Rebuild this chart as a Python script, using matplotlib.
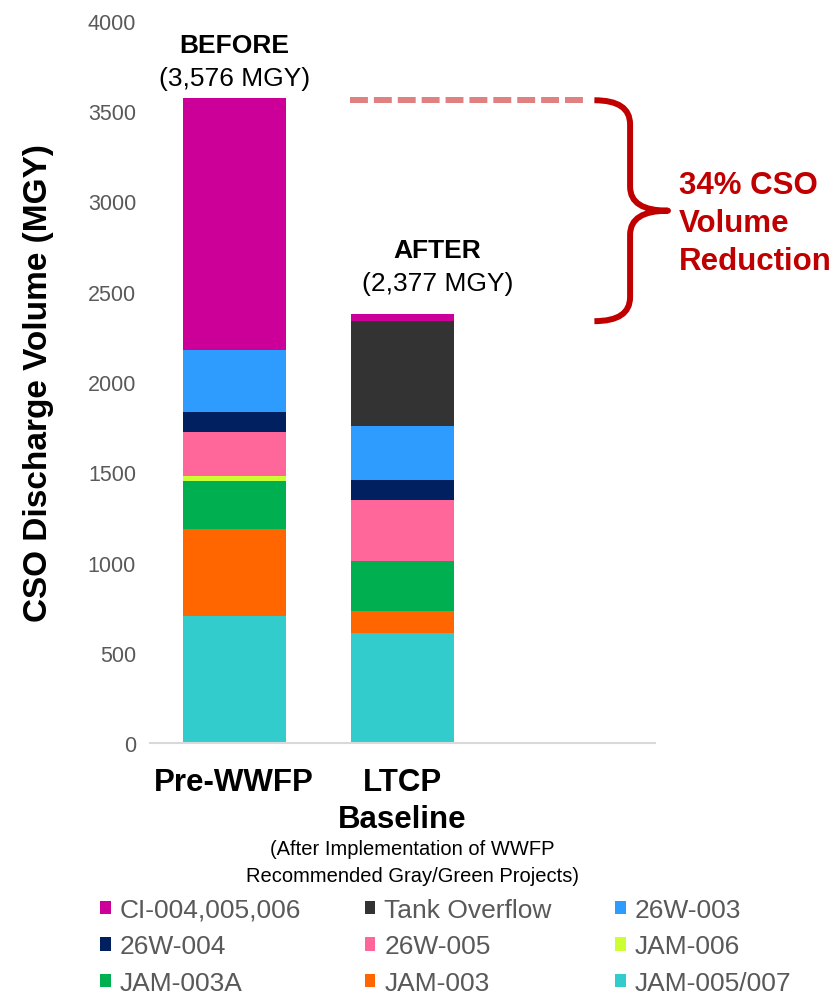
import numpy as np
import matplotlib
matplotlib.use("Agg")
import matplotlib.pyplot as plt
from matplotlib.patches import Patch, PathPatch
from matplotlib.path import Path

plt.rcParams['font.family'] = ['Liberation Sans', 'DejaVu Sans']

# scenarios (third slot left empty for the annotation)
scenarios = ["Pre-WWFP", "LTCP\nBaseline"]
totals = [3576, 2377]

# stacked series, bottom to top (MGY)
series = ["JAM-005/007", "JAM-003", "JAM-003A", "JAM-006", "26W-005",
          "26W-004", "26W-003", "Tank Overflow", "CI-004,005,006"]
jam005_007 = [703, 609]
jam003 = [480, 121]
jam003a = [270, 278]
jam006 = [27, 0]
w26_005 = [242, 338]
w26_004 = [111, 112]
w26_003 = [345, 301]
tank_overflow = [0, 579]
ci_004 = [1398, 39]

colors = {
    "CI-004,005,006": "#CC0099",
    "Tank Overflow": "#333333",
    "26W-003": "#2E9BFF",
    "26W-004": "#002060",
    "26W-005": "#FF6699",
    "JAM-006": "#CCFF33",
    "JAM-003A": "#00B050",
    "JAM-003": "#FF6600",
    "JAM-005/007": "#33CCCC",
}

values = [jam005_007, jam003, jam003a, jam006, w26_005, w26_004, w26_003,
          tank_overflow, ci_004]

fig = plt.figure(figsize=(8.39, 9.95), dpi=100)
ax = fig.add_axes([150 / 839, 1 - 744 / 995, 505 / 839, 722 / 995])

x = np.arange(len(scenarios))
bottom = np.zeros(len(scenarios))
for name, vals in zip(series, values):
    ax.bar(x, vals, width=0.61, bottom=bottom, color=colors[name], label=name)
    bottom += np.array(vals)

ax.set_xlim(-0.5, 2.5)
ax.set_ylim(0, 4000)
ax.set_yticks(np.arange(0, 4001, 500))
ax.tick_params(axis='y', length=0, labelsize=15.5, labelcolor="#595959", pad=10)
ax.set_xticks(x)
ax.set_xticklabels(scenarios, fontsize=22.5, fontweight='bold', linespacing=1.3)
ax.tick_params(axis='x', length=0, pad=17)
for s in ["top", "right", "left"]:
    ax.spines[s].set_visible(False)
ax.spines["bottom"].set_color("#D9D9D9")
ax.spines["bottom"].set_linewidth(1.5)
ax.set_ylabel("CSO Discharge Volume (MGY)", fontsize=24, fontweight='bold',
              labelpad=24)

fig.text(412 / 839, 1 - 863 / 995,
         "(After Implementation of WWFP\nRecommended Gray/Green Projects)",
         ha='center', va='center', fontsize=14.5, linespacing=1.5)

# totals above each bar
heads = ["BEFORE", "AFTER"]
dx = [0, 25]
for i, (head, tot) in enumerate(zip(heads, totals)):
    lift = 14 if i == 0 else 22
    ax.annotate(f"({tot:,} MGY)", xy=(i, tot), xytext=(dx[i], lift),
                textcoords='offset points', ha='center', va='center',
                fontsize=19)
    ax.annotate(head, xy=(i, tot), xytext=(dx[i], lift + 24),
                textcoords='offset points', ha='center', va='center',
                fontsize=19, fontweight='bold')

# dashed reference line at the "before" level
ax.plot([0.69, 2.10], [totals[0] - 15, totals[0] - 15], color="#E08080",
        lw=4.3, dashes=(3, 1), clip_on=False, solid_capstyle='butt')

# curly brace spanning before -> after
top, bot = totals[0] - 15, totals[1] - 40
mid = (top + bot) / 2
r = 133
xe, xm, xt = 2.14, 2.352, 2.577
verts = [(xe, top), (xm, top), (xm, top - r),
         (xm, mid + r),
         (xm, mid), (xt, mid),
         (xm, mid), (xm, mid - r),
         (xm, bot + r),
         (xm, bot), (xe, bot)]
codes = [Path.MOVETO, Path.CURVE3, Path.CURVE3,
         Path.LINETO,
         Path.CURVE3, Path.CURVE3,
         Path.CURVE3, Path.CURVE3,
         Path.LINETO,
         Path.CURVE3, Path.CURVE3]
brace = PathPatch(Path(verts, codes), fill=False, edgecolor="#C00000",
                  lw=4.3, clip_on=False, capstyle='butt', joinstyle='round')
ax.add_patch(brace)

pct = round((totals[0] - totals[1]) / totals[0] * 100)
ax.text(2.64, mid - 70, f"{pct}% CSO\nVolume\nReduction", ha='left',
        va='center', fontsize=22.5, fontweight='bold', color="#C00000",
        linespacing=1.35, clip_on=False)

# legend, laid out row by row
order = ["CI-004,005,006", "Tank Overflow", "26W-003",
         "26W-004", "26W-005", "JAM-006",
         "JAM-003A", "JAM-003", "JAM-005/007"]
ncol = 3
colwise = [order[r * ncol + c] for c in range(ncol) for r in range(3)]
handles = [Patch(facecolor=colors[n], edgecolor='none') for n in colwise]
leg = fig.legend(handles, colwise, ncol=ncol, loc='upper left',
                 bbox_to_anchor=(100 / 839, 1 - 899 / 995), frameon=False,
                 fontsize=19, handlelength=0.4, handleheight=0.4,
                 handletextpad=0.35, columnspacing=2.4, labelspacing=0.47,
                 borderpad=0, borderaxespad=0)
for t in leg.get_texts():
    t.set_color("#595959")

fig.savefig("out.png", dpi=100)
